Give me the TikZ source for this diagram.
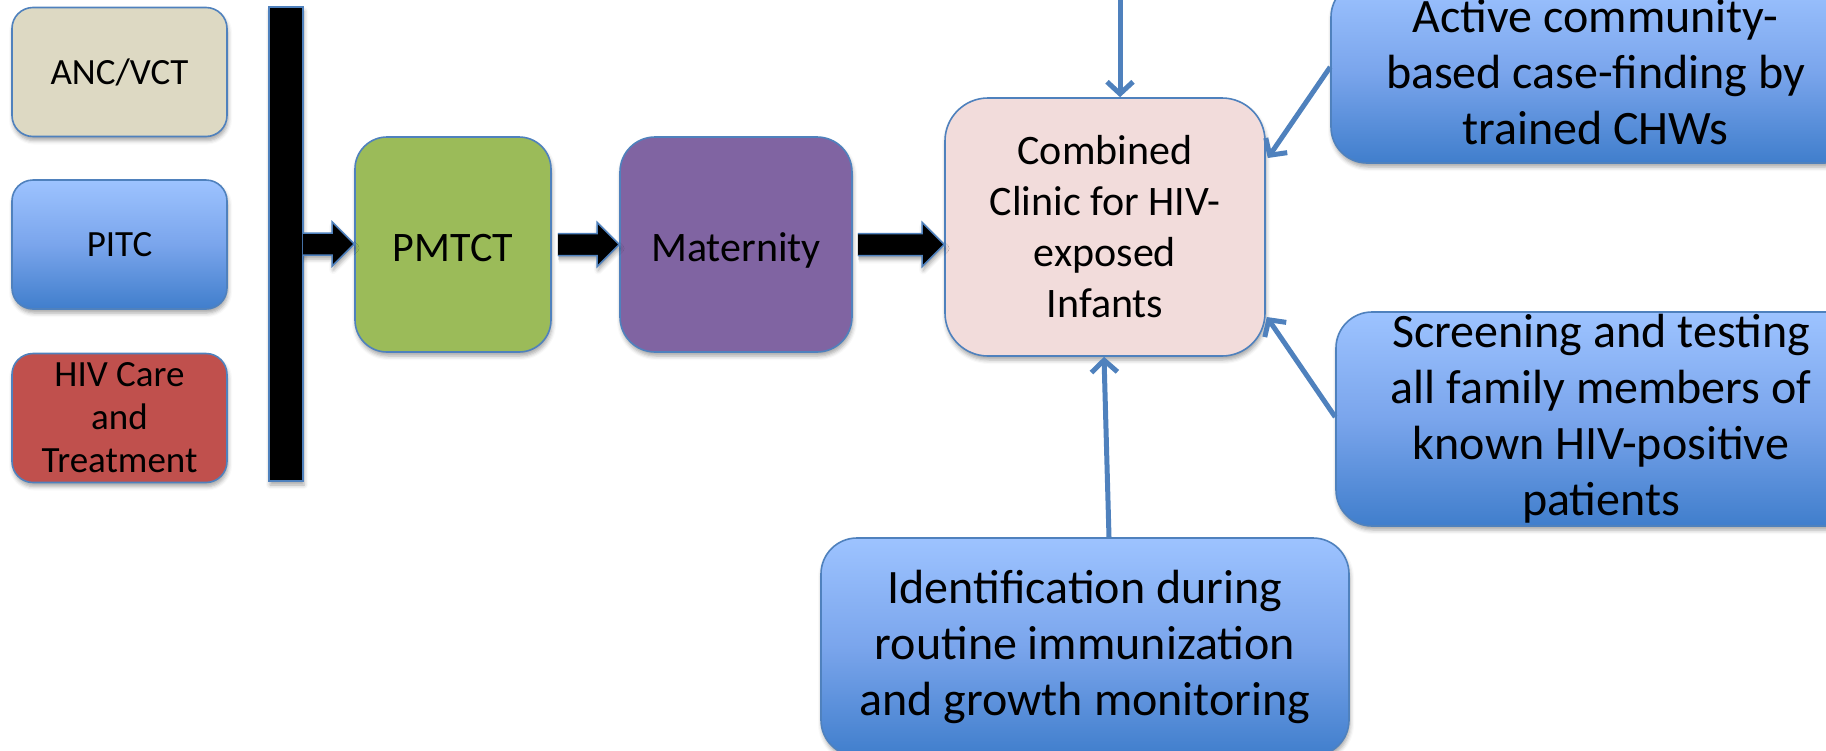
\documentclass[tikz,border=0pt]{standalone}
\usepackage{fontspec}
\setmainfont{Carlito}
\usetikzlibrary{calc,arrows.meta,shadows.blur}
\definecolor{bord}{RGB}{79,129,189}
\definecolor{ancfill}{RGB}{221,217,195}
\definecolor{hivfill}{RGB}{192,80,77}
\definecolor{pmfill}{RGB}{155,187,89}
\definecolor{matfill}{RGB}{128,100,162}
\definecolor{clinfill}{RGB}{242,220,219}
\definecolor{gtop}{RGB}{157,195,255}
\definecolor{gmid}{RGB}{122,165,236}
\definecolor{gbot}{RGB}{64,126,204}
\definecolor{conn}{RGB}{79,129,189}
\tikzset{
  shd/.style={blur shadow={shadow xshift=1pt,shadow yshift=-4pt,shadow blur radius=4pt,shadow opacity=35}},
  box/.style={draw=bord,line width=1.6pt,align=center,inner sep=0pt,shd,text=black},
  smallbox/.style={box,minimum width=215pt,minimum height=129pt,rounded corners=21pt,font=\fontsize{37}{43}\selectfont},
  midbox/.style={box,minimum height=215pt,text height=41pt,text depth=7pt,font=\fontsize{42}{51}\selectfont},
  bigbox/.style={box,rounded corners=36pt,top color=gtop,bottom color=gbot,middle color=gmid,font=\fontsize{48}{56}\selectfont},
  blk/.style={fill=black,draw=bord,line width=1.5pt,shd},
  thin/.style={draw=conn,line width=5pt,-{Straight Barb[length=12pt,width=26pt]}},
}
\newcommand{\blkarrow}[2]{%
  \draw[blk] let \p1=(#1), \p2=(#2) in
    (\x1,\y1+11pt) -- (\x2-22pt,\y1+11pt) -- (\x2-22pt,\y1+22pt) -- (\x2,\y1)
    -- (\x2-22pt,\y1-22pt) -- (\x2-22pt,\y1-11pt) -- (\x1,\y1-11pt);}
\begin{document}
\begin{tikzpicture}[x=1pt,y=-1pt]
\useasboundingbox (0,0) rectangle (1826,750);
\clip (0,0) rectangle (1826,750);

% left column
\node[smallbox,fill=ancfill] (anc) at (119.5,72) {ANC/VCT};
\node[smallbox,top color=gtop,bottom color=gbot,middle color=gmid] (pitc) at (119.5,244.5) {PITC};
\node[smallbox,fill=hivfill] (hiv) at (119.5,418) {HIV Care\\and\\Treatment};

% bar
\node[draw=bord,line width=1.5pt,fill=black,minimum width=34pt,minimum height=474pt,inner sep=0pt,shd] (bar) at (286,244) {};

% main chain
\node[midbox,fill=pmfill,minimum width=196pt,rounded corners=32pt] (pmtct) at (453,244.5) {PMTCT};
\node[midbox,fill=matfill,minimum width=232pt,rounded corners=35pt] (mat) at (736,244.5) {Maternity};
\node[box,fill=clinfill,minimum width=320pt,minimum height=258pt,rounded corners=43pt,font=\fontsize{42}{51}\selectfont] (clinic) at (1105,227) {Combined\\Clinic for HIV-\\exposed\\Infants};

% blue source boxes
\node[bigbox,minimum width=529pt,minimum height=182pt] (active) at (1595.5,72) {Active community-\\based case-finding by\\trained CHWs};
\node[bigbox,minimum width=530pt,minimum height=214pt] (screen) at (1601,419) {Screening and testing\\all family members of\\known HIV-positive\\patients};
\node[bigbox,minimum width=528pt,minimum height=218pt] (ident) at (1085,647) {Identification during\\routine immunization\\and growth monitoring};

% block arrows
\blkarrow{$(bar.east)+(-1,0)$}{pmtct.west}
\blkarrow{$(pmtct.east)+(6,0)$}{mat.west}
\blkarrow{$(mat.east)+(5,0)$}{clinic.west}

% thin connectors
\coordinate (topin) at (1120,-10);
\draw[thin] (topin) -- (topin |- clinic.north);
\draw[thin] ($(active.west)+(0,-5)$) -- ($(clinic.east)+(2,-69)$);
\draw[thin] ($(screen.west)+(0,-2)$) -- ($(clinic.east)+(1,90)$);
\draw[thin] ($(ident.north)+(24,0)$) -- ($(clinic.south)+(-1,0)$);
\end{tikzpicture}
\end{document}
